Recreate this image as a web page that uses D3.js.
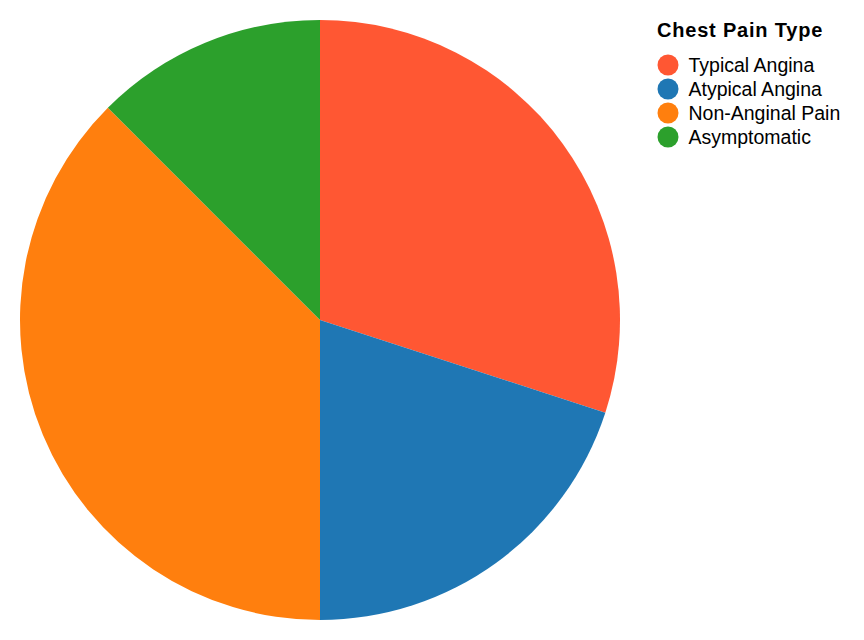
<!DOCTYPE html>
<html>
<head>
<meta charset="utf-8">
<script src="https://cdn.jsdelivr.net/npm/d3@7"></script>
<style>
  html, body { margin: 0; padding: 0; background: #fff; }
  svg { display: block; }
</style>
</head>
<body>
<svg id="chart" width="864" height="640"></svg>
<script>
const categories = ["Typical Angina", "Atypical Angina", "Non-Anginal Pain", "Asymptomatic"];
const counts = [24, 16, 30, 10];
const colors = ["#ff5733", "#1f77b4", "#ff7f0e", "#2ca02c"];
const legendTitle = "Chest Pain Type";

const svg = d3.select("#chart");
const cx = 320, cy = 320, r = 300;

const color = d3.scaleOrdinal().domain(categories).range(colors);
const data = categories.map((c, i) => ({ category: c, value: counts[i] }));

const pie = d3.pie().sort(null).value(d => d.value);
const arc = d3.arc().innerRadius(0).outerRadius(r);

svg.append("g")
  .attr("transform", `translate(${cx},${cy})`)
  .selectAll("path")
  .data(pie(data))
  .join("path")
  .attr("d", arc)
  .attr("fill", d => color(d.data.category));

const legend = svg.append("g").attr("transform", "translate(657,0)");
legend.append("text")
  .attr("x", 0).attr("y", 37)
  .attr("font-family", "Liberation Sans, Arial, sans-serif")
  .attr("font-weight", "bold")
  .attr("font-size", 20)
  .attr("letter-spacing", 0.8)
  .attr("fill", "#000")
  .text(legendTitle);

const rowY = d3.scalePoint().domain(categories).range([65, 137]);
const items = legend.selectAll("g.item")
  .data(categories)
  .join("g")
  .attr("class", "item")
  .attr("transform", d => `translate(0,${rowY(d)})`);
items.append("circle")
  .attr("cx", 11).attr("cy", 0).attr("r", 10.5)
  .attr("fill", d => color(d));
items.append("text")
  .attr("x", 31.5).attr("y", 6.5)
  .attr("font-family", "Liberation Sans, Arial, sans-serif")
  .attr("font-size", 19.5)
  .attr("fill", "#000")
  .text(d => d);
</script>
</body>
</html>
